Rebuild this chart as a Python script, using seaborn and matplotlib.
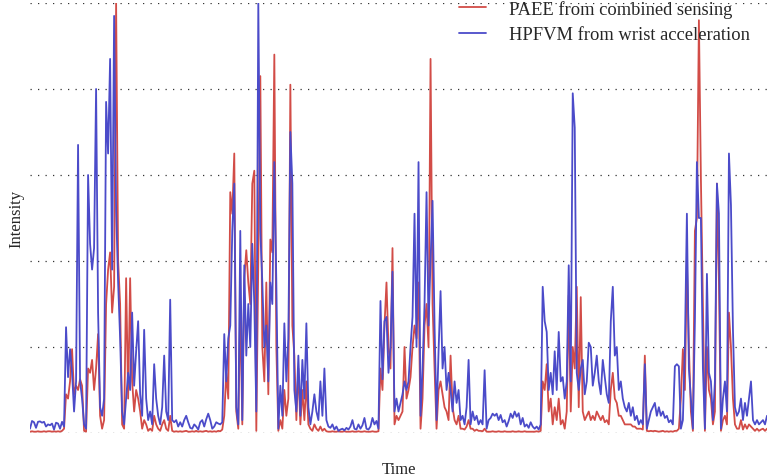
import numpy as np
import pandas as pd
import matplotlib
matplotlib.use("Agg")
import matplotlib.pyplot as plt
import seaborn as sns

series_names = ["PAEE from combined sensing", "HPFVM from wrist acceleration"]
series_colors = ["#d24c47", "#4b4bc9"]

paee = [
    0.3, 0.4, 0.3, 0.3, 0.4, 0.3, 0.3, 0.4, 0.3, 0.4,
    0.4, 0.3, 0.4, 0.3, 0.4, 0.3, 0.5, 1.0, 9, 8,
    12, 19.5, 9, 11, 10, 12.5, 11, 0.5, 0.3, 15,
    14, 17, 10, 15, 23, 4, 1, 3, 30, 38,
    42, 28, 34, 100, 40, 30, 2, 1, 36, 8,
    36, 12, 5, 10, 8, 5, 1, 3, 2, 0.5,
    1, 0.5, 4, 2, 1, 0.5, 2, 3, 1, 0.5,
    4, 0.5, 0.3, 0.4, 0.3, 0.4, 0.3, 0.4, 0.5, 0.3,
    0.3, 0.4, 0.3, 0.5, 0.3, 0.4, 0.3, 0.4, 0.5, 0.3,
    0.4, 0.3, 0.4, 0.3, 0.5, 0.4, 0.8, 4, 14, 8,
    56, 51, 65, 5, 1, 30, 2, 36, 42.5, 35,
    30, 58, 61, 0.5, 40, 83, 20, 12, 35, 9,
    45, 42, 88, 20, 0.5, 3, 1, 10, 4, 8,
    81, 25, 18, 3, 15, 2, 10, 3, 12, 2,
    1, 0.5, 2, 1, 0.5, 1.5, 0.5, 1, 0.4, 0.3,
    0.3, 0.4, 0.3, 0.3, 0.4, 0.3, 0.3, 0.4, 0.3, 0.3,
    0.3, 0.4, 0.3, 0.3, 0.4, 0.3, 0.3, 0.4, 0.3, 0.3,
    0.3, 0.4, 0.3, 0.3, 0.4, 15, 10, 25, 35, 20,
    15, 43, 2, 4, 3, 4, 5, 20, 8, 10,
    13, 20, 25, 22, 35, 1, 8, 25, 30, 20,
    87, 30, 15, 1, 10, 12, 9, 6, 5, 3,
    18, 6, 3, 2, 4, 1, 1, 0.8, 1.5, 3,
    1, 1, 0.5, 0.8, 0.5, 0.5, 0.4, 1, 0.3, 0.3,
    0.3, 0.4, 0.3, 0.3, 0.4, 0.3, 0.3, 0.4, 0.3, 0.3,
    0.3, 0.4, 0.3, 0.3, 0.4, 0.3, 0.3, 0.4, 0.3, 0.3,
    0.3, 0.3, 0.3, 0.4, 0.3, 0.5, 12, 10, 16, 5,
    8, 2, 6, 3, 8, 2, 3, 1, 5, 32,
    5, 20, 15, 34, 6, 31.6, 5, 3, 4, 5,
    3, 4, 3, 5, 4, 3, 4, 2.5, 3, 2,
    10, 14, 8, 7, 4, 4, 3, 2, 2, 2,
    2, 1.5, 1.5, 1, 1, 1, 0.8, 18, 0.5, 0.4,
    0.5, 0.4, 0.5, 0.4, 0.3, 0.4, 0.5, 0.3, 0.4, 0.3,
    0.4, 0.3, 0.5, 0.5, 1, 8, 19.5, 10, 40, 20,
    5, 0.5, 47, 50, 96, 59, 30, 0.5, 20, 10,
    8, 2, 5, 58, 35, 0.5, 3, 4, 2, 28,
    20, 8, 2, 1, 1, 3, 0.8, 2, 1, 2,
    1.5, 1, 0.5, 1, 0.5, 0.8, 1, 0.5, 1,
]

hpfvm = [
    1.0, 2.8, 2.5, 1.2, 2.6, 2.7, 2.4, 2.6, 1.5, 2.0,
    1.8, 2.2, 0.8, 2.4, 2.2, 1.0, 2.6, 1.5, 24.6, 13,
    19.5, 14, 5, 12, 67, 12, 8, 2, 1, 60,
    44, 38, 43, 80, 28, 6, 4, 8, 77, 65,
    87, 38, 97, 52, 35, 22, 5, 2, 8, 14,
    10, 28, 11, 19, 26, 9, 4, 24, 8, 3,
    5, 2, 16, 8, 4, 2, 6, 18, 5, 3,
    31, 3, 2.5, 3, 1.5, 2.5, 1.5, 3.0, 4.0, 2.5,
    1.2, 1.0, 2.0, 1.5, 0.8, 2.5, 3.0, 1.5, 3.2, 4.5,
    3.0, 1.0, 1.5, 2.5, 2.2, 2.0, 2.5, 23, 12, 22,
    25, 47, 58, 6, 2, 47, 3, 39, 18, 30,
    20, 44, 30, 5, 100, 47, 35, 20, 25, 12,
    35, 30, 63, 35, 1, 11, 4, 25.5, 12, 22,
    70, 58, 10, 5, 18, 4, 17, 8, 25.5, 6,
    2, 5, 9, 5, 3, 12, 4, 15, 3, 1.5,
    1.2, 2.0, 0.8, 1.5, 0.5, 0.8, 1.0, 0.6, 1.2, 0.8,
    1.5, 3.0, 1.0, 0.8, 2.0, 1.0, 1.8, 3.5, 1.0, 0.8,
    1.5, 3.5, 2.0, 2.8, 1.0, 30.7, 12.5, 26, 27, 14,
    20, 37.5, 5, 8, 5, 7, 9, 12, 10, 12,
    20, 27, 51, 20, 63, 4, 15, 30, 56, 25,
    40, 54, 25, 3, 19, 33, 15, 20, 10, 14,
    10, 5, 12, 7, 10, 3, 4, 2, 6, 17,
    2, 5, 3, 4, 2, 3, 2, 14.6, 1, 3,
    3.5, 4.5, 4.0, 4.5, 3.0, 4.2, 2.5, 3.0, 1.5, 2.8,
    4.5, 3.5, 5.0, 3.8, 4.6, 2.0, 3.5, 1.5, 2.0, 1.2,
    2.5, 1.5, 1.0, 1.5, 0.8, 2.0, 34, 26, 23.5, 10,
    14, 9, 19, 10, 23.5, 12, 13, 8, 12, 39,
    12, 79, 71, 14, 10, 15, 17, 9, 12, 21,
    20, 11, 14, 18, 12, 9, 17, 13, 9, 7,
    26, 34, 18, 20, 10, 12, 8, 6, 5, 7,
    4, 6, 3, 4, 2, 3, 2, 16, 1, 3,
    5, 6, 7, 4, 6, 4, 5, 3.5, 4, 2.5,
    3, 2, 15.5, 16, 15.5, 1, 3, 20, 51, 15,
    8, 1, 26, 63, 50, 50, 15, 1, 37, 14,
    12, 3, 12, 58, 51, 1, 8, 12, 5, 65,
    53, 24, 6, 4, 5, 8, 3, 7, 4, 8,
    12, 3, 2, 3, 2, 2.5, 3, 2, 4,
]

n = min(len(paee), len(hpfvm))
time = np.arange(n)
df = pd.DataFrame({
    "Time": np.concatenate([time, time]),
    "Intensity": np.concatenate([paee[:n], hpfvm[:n]]),
    "Series": [series_names[0]] * n + [series_names[1]] * n,
})

sns.set_theme(style="white")
plt.rcParams["font.family"] = ["Liberation Serif", "DejaVu Serif"]

fig = plt.figure(figsize=(7.67, 4.77), dpi=100)
ax = fig.add_axes([30 / 767, 1 - 434 / 477, 1 - 30 / 767, 430 / 477])

sns.lineplot(data=df, x="Time", y="Intensity", hue="Series",
             palette=dict(zip(series_names, series_colors)),
             hue_order=series_names, linewidth=1.3, ax=ax, legend=True,
             estimator=None, sort=False)

ax.set_xlim(0, n - 1)
ax.set_ylim(0, 100)
ax.set_yticks([0, 20, 40, 60, 80, 100])
ax.set_xticks([])
ax.tick_params(axis="y", length=0, labelleft=False)
ax.yaxis.grid(True, linestyle=(0, (1, 5)), color="#333333", linewidth=0.9)
ax.xaxis.grid(False)
ax.set_axisbelow(True)
for s in ax.spines.values():
    s.set_visible(False)

ax.set_xlabel("Time", fontsize=12, labelpad=20)
ax.set_ylabel("Intensity", fontsize=12, labelpad=4)

leg = ax.legend(loc="upper right", bbox_to_anchor=(0.9864, 1.024), frameon=False,
                fontsize=13.3, handlelength=1.45, handletextpad=1.25,
                labelspacing=0.46, borderaxespad=0.0)

fig.savefig("out.png", dpi=100)
